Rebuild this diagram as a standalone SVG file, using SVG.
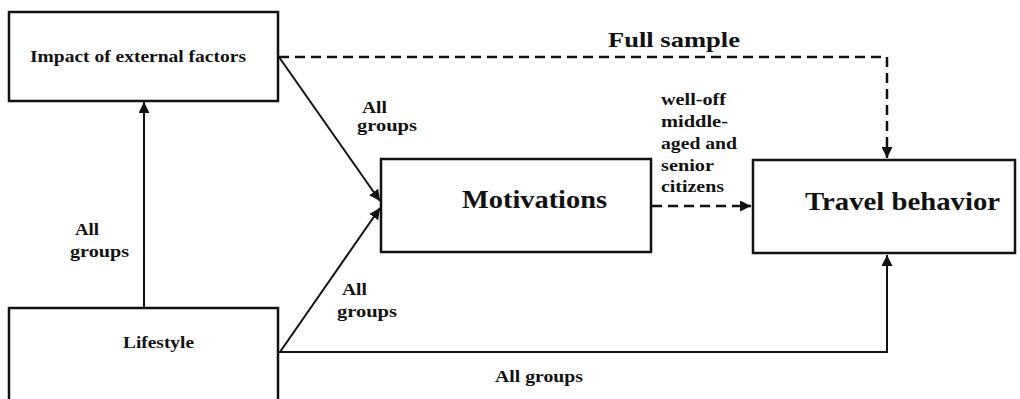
<svg xmlns="http://www.w3.org/2000/svg" width="1020" height="399" viewBox="0 0 1020 399">
<style>
.box{fill:#fff;stroke:#111;stroke-width:2.5}
.ln{fill:none;stroke:#111;stroke-width:2}
.dash{fill:none;stroke:#111;stroke-width:2.5;stroke-dasharray:10 6}
text{font-family:"Liberation Serif","DejaVu Serif",serif;font-weight:bold;fill:#111}
.s{font-size:16.5px}
.m{font-size:21px}
.l{font-size:25px}
</style>
<defs>
<marker id="ah" viewBox="0 0 10 10" refX="10" refY="5" markerWidth="11" markerHeight="11" markerUnits="userSpaceOnUse" orient="auto">
<path d="M0,0 L10,5 L0,10 Z" fill="#111"/>
</marker>
</defs>
<rect width="1020" height="399" fill="#fff"/>
<g id="connectors">
<line class="ln" x1="144" y1="308" x2="144" y2="102" marker-end="url(#ah)"/>
<polyline class="dash" points="279,57 887,57 887,158" marker-end="url(#ah)"/>
<line class="ln" x1="279" y1="57" x2="380" y2="201" marker-end="url(#ah)"/>
<line class="ln" x1="280" y1="352" x2="380" y2="208" marker-end="url(#ah)"/>
<line class="dash" x1="652" y1="206" x2="751" y2="206" marker-end="url(#ah)"/>
<polyline class="ln" points="279,352 887,352 887,255" marker-end="url(#ah)"/>
<text class="m" x="608" y="47" textLength="132" lengthAdjust="spacingAndGlyphs">Full sample</text>
<text class="s" x="362" y="113" textLength="25" lengthAdjust="spacingAndGlyphs">All</text>
<text class="s" x="357" y="131" textLength="60" lengthAdjust="spacingAndGlyphs">groups</text>
<text class="s" x="75" y="235" textLength="24" lengthAdjust="spacingAndGlyphs">All</text>
<text class="s" x="70" y="257" textLength="59" lengthAdjust="spacingAndGlyphs">groups</text>
<text class="s" x="342" y="295" textLength="25" lengthAdjust="spacingAndGlyphs">All</text>
<text class="s" x="337" y="317" textLength="60" lengthAdjust="spacingAndGlyphs">groups</text>
<text class="s" x="495" y="382" textLength="88" lengthAdjust="spacingAndGlyphs">All groups</text>
<text class="s" x="661" y="105" textLength="65" lengthAdjust="spacingAndGlyphs">well-off</text>
<text class="s" x="661" y="127" textLength="67" lengthAdjust="spacingAndGlyphs">middle-</text>
<text class="s" x="661" y="149" textLength="76" lengthAdjust="spacingAndGlyphs">aged and</text>
<text class="s" x="661" y="171" textLength="53" lengthAdjust="spacingAndGlyphs">senior</text>
<text class="s" x="661" y="192" textLength="63" lengthAdjust="spacingAndGlyphs">citizens</text>
</g>
<g id="impact">
<rect class="box" x="9" y="12" width="269" height="89"/>
<text class="s" x="30" y="62" textLength="216" lengthAdjust="spacingAndGlyphs">Impact of external factors</text>
</g>
<g id="lifestyle">
<rect class="box" x="9" y="308" width="269" height="100"/>
<text class="s" x="123" y="348" textLength="71" lengthAdjust="spacingAndGlyphs">Lifestyle</text>
</g>
<g id="motivations">
<rect class="box" x="381" y="159" width="270" height="93"/>
<text class="l" x="462" y="208" textLength="145" lengthAdjust="spacingAndGlyphs">Motivations</text>
</g>
<g id="travel">
<rect class="box" x="753" y="160" width="262" height="93"/>
<text class="l" x="805" y="210" textLength="195" lengthAdjust="spacingAndGlyphs">Travel behavior</text>
</g>
</svg>
